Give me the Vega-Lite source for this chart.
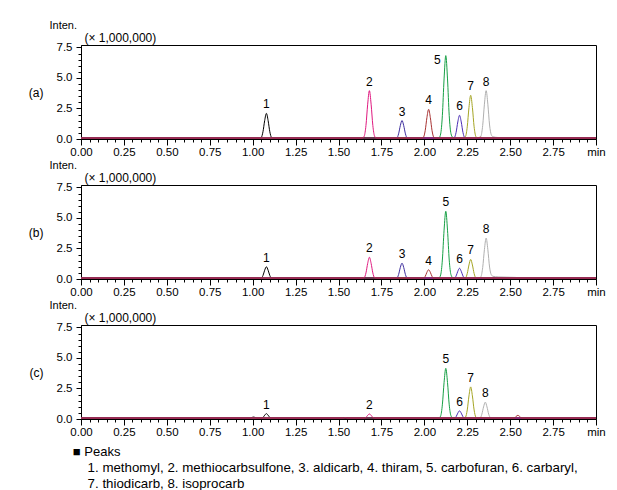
{
"$schema": "https://vega.github.io/schema/vega-lite/v6.json",
"background": "white",
"padding": {"left": 27, "top": 19, "right": 0, "bottom": 0},
"spacing": 1,
"config": {
  "font": "Liberation Sans",
  "view": {"stroke": "#000", "strokeWidth": 1},
  "axis": {"labelFont": "Liberation Sans", "titleFont": "Liberation Sans", "titleFontWeight": "normal", "domainColor": "#000", "tickColor": "#000", "labelColor": "#000", "titleColor": "#000", "grid": false, "labelOverlap": false, "labelFlush": false},
  "title": {"font": "Liberation Sans", "subtitleFont": "Liberation Sans", "color": "#000", "subtitleColor": "#000", "fontWeight": "normal"}
},
"datasets": {
"tr": [
{"p":"a","c":"8","t":0,"v":0.08},{"p":"a","c":"8","t":2.32,"v":0.08},{"p":"a","c":"8","t":2.33,"v":0.24},{"p":"a","c":"8","t":2.34,"v":1.11},{"p":"a","c":"8","t":2.35,"v":2.85},{"p":"a","c":"8","t":2.36,"v":3.96},{"p":"a","c":"8","t":2.37,"v":2.85},{"p":"a","c":"8","t":2.38,"v":1.15},{"p":"a","c":"8","t":2.39,"v":0.35},{"p":"a","c":"8","t":2.40,"v":0.18},{"p":"a","c":"8","t":2.43,"v":0.12},{"p":"a","c":"8","t":2.47,"v":0.08},{"p":"a","c":"8","t":3,"v":0.08},
{"p":"a","c":"7","t":0,"v":0.08},{"p":"a","c":"7","t":2.23,"v":0.08},{"p":"a","c":"7","t":2.24,"v":0.21},{"p":"a","c":"7","t":2.25,"v":1.0},{"p":"a","c":"7","t":2.26,"v":2.58},{"p":"a","c":"7","t":2.27,"v":3.58},{"p":"a","c":"7","t":2.28,"v":2.58},{"p":"a","c":"7","t":2.29,"v":1.0},{"p":"a","c":"7","t":2.30,"v":0.21},{"p":"a","c":"7","t":2.31,"v":0.08},{"p":"a","c":"7","t":3,"v":0.08},
{"p":"a","c":"6","t":0,"v":0.08},{"p":"a","c":"6","t":2.165,"v":0.08},{"p":"a","c":"6","t":2.175,"v":0.12},{"p":"a","c":"6","t":2.185,"v":0.54},{"p":"a","c":"6","t":2.195,"v":1.40},{"p":"a","c":"6","t":2.205,"v":1.94},{"p":"a","c":"6","t":2.215,"v":1.40},{"p":"a","c":"6","t":2.225,"v":0.54},{"p":"a","c":"6","t":2.235,"v":0.12},{"p":"a","c":"6","t":2.245,"v":0.08},{"p":"a","c":"6","t":3,"v":0.08},
{"p":"a","c":"5","t":0,"v":0.08},{"p":"a","c":"5","t":2.085,"v":0.08},{"p":"a","c":"5","t":2.095,"v":0.41},{"p":"a","c":"5","t":2.105,"v":1.91},{"p":"a","c":"5","t":2.115,"v":4.92},{"p":"a","c":"5","t":2.125,"v":6.83},{"p":"a","c":"5","t":2.135,"v":4.92},{"p":"a","c":"5","t":2.145,"v":1.91},{"p":"a","c":"5","t":2.155,"v":0.45},{"p":"a","c":"5","t":2.165,"v":0.14},{"p":"a","c":"5","t":2.18,"v":0.08},{"p":"a","c":"5","t":3,"v":0.08},
{"p":"a","c":"1","t":0,"v":0.08},{"p":"a","c":"1","t":1.04,"v":0.08},{"p":"a","c":"1","t":1.05,"v":0.13},{"p":"a","c":"1","t":1.06,"v":0.59},{"p":"a","c":"1","t":1.07,"v":1.51},{"p":"a","c":"1","t":1.08,"v":2.1},{"p":"a","c":"1","t":1.09,"v":1.51},{"p":"a","c":"1","t":1.10,"v":0.59},{"p":"a","c":"1","t":1.11,"v":0.13},{"p":"a","c":"1","t":1.12,"v":0.08},{"p":"a","c":"1","t":3,"v":0.08},
{"p":"a","c":"3","t":0,"v":0.08},{"p":"a","c":"3","t":1.83,"v":0.08},{"p":"a","c":"3","t":1.84,"v":0.09},{"p":"a","c":"3","t":1.85,"v":0.42},{"p":"a","c":"3","t":1.86,"v":1.09},{"p":"a","c":"3","t":1.87,"v":1.51},{"p":"a","c":"3","t":1.88,"v":1.09},{"p":"a","c":"3","t":1.89,"v":0.42},{"p":"a","c":"3","t":1.90,"v":0.09},{"p":"a","c":"3","t":1.91,"v":0.08},{"p":"a","c":"3","t":3,"v":0.08},
{"p":"a","c":"2","t":0,"v":0.08},{"p":"a","c":"2","t":1.64,"v":0.08},{"p":"a","c":"2","t":1.65,"v":0.24},{"p":"a","c":"2","t":1.66,"v":1.11},{"p":"a","c":"2","t":1.67,"v":2.85},{"p":"a","c":"2","t":1.68,"v":3.96},{"p":"a","c":"2","t":1.69,"v":2.85},{"p":"a","c":"2","t":1.70,"v":1.11},{"p":"a","c":"2","t":1.71,"v":0.24},{"p":"a","c":"2","t":1.72,"v":0.08},{"p":"a","c":"2","t":3,"v":0.08},
{"p":"a","c":"4","t":0,"v":0.08},{"p":"a","c":"4","t":1.985,"v":0.08},{"p":"a","c":"4","t":1.995,"v":0.15},{"p":"a","c":"4","t":2.005,"v":0.68},{"p":"a","c":"4","t":2.015,"v":1.75},{"p":"a","c":"4","t":2.025,"v":2.43},{"p":"a","c":"4","t":2.035,"v":1.75},{"p":"a","c":"4","t":2.045,"v":0.68},{"p":"a","c":"4","t":2.055,"v":0.15},{"p":"a","c":"4","t":2.065,"v":0.08},{"p":"a","c":"4","t":2.31,"v":0.08},{"p":"a","c":"4","t":2.325,"v":0.15},{"p":"a","c":"4","t":2.34,"v":0.08},{"p":"a","c":"4","t":3,"v":0.08},

{"p":"b","c":"8","t":0,"v":0.08},{"p":"b","c":"8","t":2.32,"v":0.08},{"p":"b","c":"8","t":2.33,"v":0.2},{"p":"b","c":"8","t":2.34,"v":0.94},{"p":"b","c":"8","t":2.35,"v":2.41},{"p":"b","c":"8","t":2.36,"v":3.35},{"p":"b","c":"8","t":2.37,"v":2.41},{"p":"b","c":"8","t":2.38,"v":0.98},{"p":"b","c":"8","t":2.39,"v":0.35},{"p":"b","c":"8","t":2.40,"v":0.22},{"p":"b","c":"8","t":2.43,"v":0.17},{"p":"b","c":"8","t":2.48,"v":0.15},{"p":"b","c":"8","t":2.53,"v":0.13},{"p":"b","c":"8","t":2.56,"v":0.08},{"p":"b","c":"8","t":3,"v":0.08},
{"p":"b","c":"7","t":0,"v":0.08},{"p":"b","c":"7","t":2.23,"v":0.08},{"p":"b","c":"7","t":2.24,"v":0.1},{"p":"b","c":"7","t":2.25,"v":0.45},{"p":"b","c":"7","t":2.26,"v":1.15},{"p":"b","c":"7","t":2.27,"v":1.6},{"p":"b","c":"7","t":2.28,"v":1.15},{"p":"b","c":"7","t":2.29,"v":0.45},{"p":"b","c":"7","t":2.30,"v":0.1},{"p":"b","c":"7","t":2.31,"v":0.08},{"p":"b","c":"7","t":3,"v":0.08},
{"p":"b","c":"6","t":0,"v":0.08},{"p":"b","c":"6","t":2.165,"v":0.08},{"p":"b","c":"6","t":2.175,"v":0.08},{"p":"b","c":"6","t":2.185,"v":0.25},{"p":"b","c":"6","t":2.195,"v":0.63},{"p":"b","c":"6","t":2.205,"v":0.88},{"p":"b","c":"6","t":2.215,"v":0.63},{"p":"b","c":"6","t":2.225,"v":0.25},{"p":"b","c":"6","t":2.235,"v":0.08},{"p":"b","c":"6","t":2.245,"v":0.08},{"p":"b","c":"6","t":3,"v":0.08},
{"p":"b","c":"5","t":0,"v":0.08},{"p":"b","c":"5","t":2.085,"v":0.08},{"p":"b","c":"5","t":2.095,"v":0.33},{"p":"b","c":"5","t":2.105,"v":1.55},{"p":"b","c":"5","t":2.115,"v":4.0},{"p":"b","c":"5","t":2.125,"v":5.55},{"p":"b","c":"5","t":2.135,"v":4.0},{"p":"b","c":"5","t":2.145,"v":1.55},{"p":"b","c":"5","t":2.155,"v":0.36},{"p":"b","c":"5","t":2.165,"v":0.12},{"p":"b","c":"5","t":2.18,"v":0.08},{"p":"b","c":"5","t":3,"v":0.08},
{"p":"b","c":"1","t":0,"v":0.08},{"p":"b","c":"1","t":1.04,"v":0.08},{"p":"b","c":"1","t":1.05,"v":0.08},{"p":"b","c":"1","t":1.06,"v":0.28},{"p":"b","c":"1","t":1.07,"v":0.72},{"p":"b","c":"1","t":1.08,"v":1.0},{"p":"b","c":"1","t":1.09,"v":0.72},{"p":"b","c":"1","t":1.10,"v":0.28},{"p":"b","c":"1","t":1.11,"v":0.08},{"p":"b","c":"1","t":1.12,"v":0.08},{"p":"b","c":"1","t":3,"v":0.08},
{"p":"b","c":"3","t":0,"v":0.08},{"p":"b","c":"3","t":1.83,"v":0.08},{"p":"b","c":"3","t":1.84,"v":0.08},{"p":"b","c":"3","t":1.85,"v":0.36},{"p":"b","c":"3","t":1.86,"v":0.94},{"p":"b","c":"3","t":1.87,"v":1.3},{"p":"b","c":"3","t":1.88,"v":0.94},{"p":"b","c":"3","t":1.89,"v":0.36},{"p":"b","c":"3","t":1.90,"v":0.08},{"p":"b","c":"3","t":1.91,"v":0.08},{"p":"b","c":"3","t":3,"v":0.08},
{"p":"b","c":"2","t":0,"v":0.08},{"p":"b","c":"2","t":1.64,"v":0.08},{"p":"b","c":"2","t":1.65,"v":0.11},{"p":"b","c":"2","t":1.66,"v":0.5},{"p":"b","c":"2","t":1.67,"v":1.28},{"p":"b","c":"2","t":1.68,"v":1.78},{"p":"b","c":"2","t":1.69,"v":1.28},{"p":"b","c":"2","t":1.70,"v":0.5},{"p":"b","c":"2","t":1.71,"v":0.11},{"p":"b","c":"2","t":1.72,"v":0.08},{"p":"b","c":"2","t":3,"v":0.08},
{"p":"b","c":"4","t":0,"v":0.08},{"p":"b","c":"4","t":1.985,"v":0.08},{"p":"b","c":"4","t":1.995,"v":0.08},{"p":"b","c":"4","t":2.005,"v":0.21},{"p":"b","c":"4","t":2.015,"v":0.55},{"p":"b","c":"4","t":2.025,"v":0.76},{"p":"b","c":"4","t":2.035,"v":0.55},{"p":"b","c":"4","t":2.045,"v":0.21},{"p":"b","c":"4","t":2.055,"v":0.08},{"p":"b","c":"4","t":2.065,"v":0.08},{"p":"b","c":"4","t":2.31,"v":0.08},{"p":"b","c":"4","t":2.325,"v":0.12},{"p":"b","c":"4","t":2.34,"v":0.08},{"p":"b","c":"4","t":3,"v":0.08},

{"p":"c","c":"8","t":0,"v":0.08},{"p":"c","c":"8","t":2.315,"v":0.08},{"p":"c","c":"8","t":2.325,"v":0.08},{"p":"c","c":"8","t":2.335,"v":0.39},{"p":"c","c":"8","t":2.345,"v":0.99},{"p":"c","c":"8","t":2.355,"v":1.38},{"p":"c","c":"8","t":2.365,"v":0.99},{"p":"c","c":"8","t":2.375,"v":0.39},{"p":"c","c":"8","t":2.385,"v":0.12},{"p":"c","c":"8","t":2.395,"v":0.09},{"p":"c","c":"8","t":2.42,"v":0.08},{"p":"c","c":"8","t":3,"v":0.08},
{"p":"c","c":"7","t":0,"v":0.08},{"p":"c","c":"7","t":2.23,"v":0.08},{"p":"c","c":"7","t":2.24,"v":0.16},{"p":"c","c":"7","t":2.25,"v":0.74},{"p":"c","c":"7","t":2.26,"v":1.89},{"p":"c","c":"7","t":2.27,"v":2.63},{"p":"c","c":"7","t":2.28,"v":1.89},{"p":"c","c":"7","t":2.29,"v":0.74},{"p":"c","c":"7","t":2.30,"v":0.16},{"p":"c","c":"7","t":2.31,"v":0.08},{"p":"c","c":"7","t":3,"v":0.08},
{"p":"c","c":"6","t":0,"v":0.08},{"p":"c","c":"6","t":2.165,"v":0.08},{"p":"c","c":"6","t":2.175,"v":0.08},{"p":"c","c":"6","t":2.185,"v":0.19},{"p":"c","c":"6","t":2.195,"v":0.48},{"p":"c","c":"6","t":2.205,"v":0.67},{"p":"c","c":"6","t":2.215,"v":0.48},{"p":"c","c":"6","t":2.225,"v":0.19},{"p":"c","c":"6","t":2.235,"v":0.08},{"p":"c","c":"6","t":2.245,"v":0.08},{"p":"c","c":"6","t":3,"v":0.08},
{"p":"c","c":"5","t":0,"v":0.08},{"p":"c","c":"5","t":2.085,"v":0.08},{"p":"c","c":"5","t":2.095,"v":0.25},{"p":"c","c":"5","t":2.105,"v":1.16},{"p":"c","c":"5","t":2.115,"v":2.99},{"p":"c","c":"5","t":2.125,"v":4.15},{"p":"c","c":"5","t":2.135,"v":2.99},{"p":"c","c":"5","t":2.145,"v":1.16},{"p":"c","c":"5","t":2.155,"v":0.27},{"p":"c","c":"5","t":2.165,"v":0.1},{"p":"c","c":"5","t":2.18,"v":0.08},{"p":"c","c":"5","t":3,"v":0.08},
{"p":"c","c":"1","t":0,"v":0.08},{"p":"c","c":"1","t":0.985,"v":0.08},{"p":"c","c":"1","t":0.995,"v":0.12},{"p":"c","c":"1","t":1.005,"v":0.16},{"p":"c","c":"1","t":1.015,"v":0.12},{"p":"c","c":"1","t":1.025,"v":0.08},{"p":"c","c":"1","t":1.05,"v":0.08},{"p":"c","c":"1","t":1.06,"v":0.13},{"p":"c","c":"1","t":1.07,"v":0.31},{"p":"c","c":"1","t":1.08,"v":0.44},{"p":"c","c":"1","t":1.09,"v":0.31},{"p":"c","c":"1","t":1.10,"v":0.13},{"p":"c","c":"1","t":1.11,"v":0.08},{"p":"c","c":"1","t":3,"v":0.08},
{"p":"c","c":"3","t":0,"v":0.08},{"p":"c","c":"3","t":1.86,"v":0.08},{"p":"c","c":"3","t":1.87,"v":0.12},{"p":"c","c":"3","t":1.88,"v":0.08},{"p":"c","c":"3","t":3,"v":0.08},
{"p":"c","c":"2","t":0,"v":0.08},{"p":"c","c":"2","t":1.53,"v":0.08},{"p":"c","c":"2","t":1.54,"v":0.12},{"p":"c","c":"2","t":1.55,"v":0.08},{"p":"c","c":"2","t":1.65,"v":0.08},{"p":"c","c":"2","t":1.66,"v":0.13},{"p":"c","c":"2","t":1.67,"v":0.3},{"p":"c","c":"2","t":1.68,"v":0.41},{"p":"c","c":"2","t":1.69,"v":0.3},{"p":"c","c":"2","t":1.70,"v":0.13},{"p":"c","c":"2","t":1.71,"v":0.08},{"p":"c","c":"2","t":3,"v":0.08},
{"p":"c","c":"4","t":0,"v":0.08},{"p":"c","c":"4","t":2.32,"v":0.08},{"p":"c","c":"4","t":2.33,"v":0.14},{"p":"c","c":"4","t":2.34,"v":0.08},{"p":"c","c":"4","t":2.525,"v":0.08},{"p":"c","c":"4","t":2.535,"v":0.22},{"p":"c","c":"4","t":2.545,"v":0.3},{"p":"c","c":"4","t":2.555,"v":0.22},{"p":"c","c":"4","t":2.565,"v":0.08},{"p":"c","c":"4","t":3,"v":0.08}
],
"lb": [
{"p":"a","n":"1","t":1.08,"v":2.1},{"p":"a","n":"2","t":1.68,"v":3.96},{"p":"a","n":"3","t":1.87,"v":1.51},{"p":"a","n":"4","t":2.025,"v":2.43},{"p":"a","n":"5","t":2.125,"v":6.83},{"p":"a","n":"6","t":2.205,"v":1.94},{"p":"a","n":"7","t":2.27,"v":3.58},{"p":"a","n":"8","t":2.36,"v":3.96},
{"p":"b","n":"1","t":1.08,"v":1.0},{"p":"b","n":"2","t":1.68,"v":1.78},{"p":"b","n":"3","t":1.87,"v":1.3},{"p":"b","n":"4","t":2.025,"v":0.76},{"p":"b","n":"5","t":2.125,"v":5.55},{"p":"b","n":"6","t":2.205,"v":0.88},{"p":"b","n":"7","t":2.27,"v":1.6},{"p":"b","n":"8","t":2.36,"v":3.35},
{"p":"c","n":"1","t":1.08,"v":0.44},{"p":"c","n":"2","t":1.68,"v":0.41},{"p":"c","n":"5","t":2.125,"v":4.15},{"p":"c","n":"6","t":2.205,"v":0.67},{"p":"c","n":"7","t":2.27,"v":2.63},{"p":"c","n":"8","t":2.355,"v":1.38}
]
},
"title": {
  "text": "■\u00a0Peaks",
  "subtitle": ["\u200b\u00a0\u00a0\u00a0\u00a01. methomyl, 2. methiocarbsulfone, 3. aldicarb, 4. thiram, 5. carbofuran, 6. carbaryl,", "\u200b\u00a0\u00a0\u00a0\u00a07. thiodicarb, 8. isoprocarb"],
  "orient": "bottom", "anchor": "start", "frame": "bounds",
  "fontSize": 13, "subtitleFontSize": 13.3, "subtitleLineHeight": 15.5, "subtitlePadding": 2,
  "dx": 45, "offset": 8
},
"vconcat": [
{
  "width": 515, "height": 94,
  "title": {"text": "Inten.", "anchor": "start", "align": "right", "frame": "group", "dx": -4, "fontSize": 11, "offset": 0},
  "layer": [
    {"data": {"name": "tr"}, "transform": [{"filter": "datum.p == 'a'"}],
     "mark": {"type": "line", "strokeWidth": 1, "interpolate": "monotone"},
     "encoding": {
       "x": {"field": "t", "type": "quantitative", "scale": {"domain": [0, 3], "nice": false, "zero": false},
             "axis": {"orient": "bottom", "title": null, "values": [0,0.05,0.1,0.15,0.2,0.25,0.3,0.35,0.4,0.45,0.5,0.55,0.6,0.65,0.7,0.75,0.8,0.85,0.9,0.95,1,1.05,1.1,1.15,1.2,1.25,1.3,1.35,1.4,1.45,1.5,1.55,1.6,1.65,1.7,1.75,1.8,1.85,1.9,1.95,2,2.05,2.1,2.15,2.2,2.25,2.3,2.35,2.4,2.45,2.5,2.55,2.6,2.65,2.7,2.75,2.8,2.85,2.9,2.95,3],
                      "labelExpr": "abs(datum.value*4 - round(datum.value*4)) < 0.001 ? (datum.value > 2.99 ? 'min' : format(datum.value, '.2f')) : ''",
                      "tickSize": {"condition": {"test": "abs(datum.value*4 - round(datum.value*4)) < 0.001", "value": 6}, "value": 3},
                      "labelPadding": 1, "labelFontSize": 11.5, "labelOverlap": false, "labelFlush": false}},
       "y": {"field": "v", "type": "quantitative", "scale": {"domain": [0, 7.7], "nice": false},
             "axis": {"orient": "left", "values": [0,0.5,1,1.5,2,2.5,3,3.5,4,4.5,5,5.5,6,6.5,7,7.5],
                      "labelExpr": "abs(datum.value/2.5 - round(datum.value/2.5)) < 0.001 ? format(datum.value, '.1f') : ''",
                      "tickSize": {"condition": {"test": "abs(datum.value/2.5 - round(datum.value/2.5)) < 0.001", "value": 5}, "value": 3},
                      "labelPadding": 4, "labelFontSize": 11.5, "labelOverlap": false, "labelFlush": false,
                      "title": "(a)", "titleAngle": 0, "titleAlign": "right", "titleBaseline": "middle", "titleX": -38, "titleY": 47, "titleFontSize": 12}},
       "color": {"field": "c", "type": "nominal", "legend": null,
                 "scale": {"domain": ["1","2","3","4","5","6","7","8"], "range": ["#000000","#e0197f","#3d2d9e","#a83232","#17a045","#4a2db5","#a5a524","#b0b0b0"]}}
     }},
    {"data": {"name": "lb"}, "transform": [{"filter": "datum.p == 'a' && datum.n != '5'"}],
     "mark": {"type": "text", "dy": -5, "baseline": "alphabetic", "fontSize": 12, "color": "#000"},
     "encoding": {
       "x": {"field": "t", "type": "quantitative", "scale": {"domain": [0, 3], "nice": false, "zero": false},
             "axis": {"orient": "top", "title": "(× 1,000,000)", "labels": false, "ticks": false, "domain": false, "titleX": 3, "titleY": -4, "titleAlign": "left", "titleBaseline": "alphabetic", "titleFontSize": 12}},
       "y": {"field": "v", "type": "quantitative", "scale": {"domain": [0, 7.7], "nice": false}, "axis": null},
       "text": {"field": "n"}
     }},
    {"data": {"name": "lb"}, "transform": [{"filter": "datum.p == 'a' && datum.n == '5'"}],
     "mark": {"type": "text", "dx": -5, "dy": 8, "align": "right", "baseline": "alphabetic", "fontSize": 12, "color": "#000"},
     "encoding": {
       "x": {"field": "t", "type": "quantitative", "scale": {"domain": [0, 3], "nice": false, "zero": false}, "axis": null},
       "y": {"field": "v", "type": "quantitative", "scale": {"domain": [0, 7.7], "nice": false}, "axis": null},
       "text": {"field": "n"}
     }}
  ],
  "resolve": {"axis": {"x": "independent", "y": "independent"}}
},
{
  "width": 515, "height": 94,
  "title": {"text": "Inten.", "anchor": "start", "align": "right", "frame": "group", "dx": -4, "fontSize": 11, "offset": 0},
  "layer": [
    {"data": {"name": "tr"}, "transform": [{"filter": "datum.p == 'b'"}],
     "mark": {"type": "line", "strokeWidth": 1, "interpolate": "monotone"},
     "encoding": {
       "x": {"field": "t", "type": "quantitative", "scale": {"domain": [0, 3], "nice": false, "zero": false},
             "axis": {"orient": "bottom", "title": null, "values": [0,0.05,0.1,0.15,0.2,0.25,0.3,0.35,0.4,0.45,0.5,0.55,0.6,0.65,0.7,0.75,0.8,0.85,0.9,0.95,1,1.05,1.1,1.15,1.2,1.25,1.3,1.35,1.4,1.45,1.5,1.55,1.6,1.65,1.7,1.75,1.8,1.85,1.9,1.95,2,2.05,2.1,2.15,2.2,2.25,2.3,2.35,2.4,2.45,2.5,2.55,2.6,2.65,2.7,2.75,2.8,2.85,2.9,2.95,3],
                      "labelExpr": "abs(datum.value*4 - round(datum.value*4)) < 0.001 ? (datum.value > 2.99 ? 'min' : format(datum.value, '.2f')) : ''",
                      "tickSize": {"condition": {"test": "abs(datum.value*4 - round(datum.value*4)) < 0.001", "value": 6}, "value": 3},
                      "labelPadding": 1, "labelFontSize": 11.5, "labelOverlap": false, "labelFlush": false}},
       "y": {"field": "v", "type": "quantitative", "scale": {"domain": [0, 7.7], "nice": false},
             "axis": {"orient": "left", "values": [0,0.5,1,1.5,2,2.5,3,3.5,4,4.5,5,5.5,6,6.5,7,7.5],
                      "labelExpr": "abs(datum.value/2.5 - round(datum.value/2.5)) < 0.001 ? format(datum.value, '.1f') : ''",
                      "tickSize": {"condition": {"test": "abs(datum.value/2.5 - round(datum.value/2.5)) < 0.001", "value": 5}, "value": 3},
                      "labelPadding": 4, "labelFontSize": 11.5, "labelOverlap": false, "labelFlush": false,
                      "title": "(b)", "titleAngle": 0, "titleAlign": "right", "titleBaseline": "middle", "titleX": -38, "titleY": 47, "titleFontSize": 12}},
       "color": {"field": "c", "type": "nominal", "legend": null,
                 "scale": {"domain": ["1","2","3","4","5","6","7","8"], "range": ["#000000","#e0197f","#3d2d9e","#a83232","#17a045","#4a2db5","#a5a524","#b0b0b0"]}}
     }},
    {"data": {"name": "lb"}, "transform": [{"filter": "datum.p == 'b'"}],
     "mark": {"type": "text", "dy": -5, "baseline": "alphabetic", "fontSize": 12, "color": "#000"},
     "encoding": {
       "x": {"field": "t", "type": "quantitative", "scale": {"domain": [0, 3], "nice": false, "zero": false},
             "axis": {"orient": "top", "title": "(× 1,000,000)", "labels": false, "ticks": false, "domain": false, "titleX": 3, "titleY": -4, "titleAlign": "left", "titleBaseline": "alphabetic", "titleFontSize": 12}},
       "y": {"field": "v", "type": "quantitative", "scale": {"domain": [0, 7.7], "nice": false}, "axis": null},
       "text": {"field": "n"}
     }}
  ],
  "resolve": {"axis": {"x": "independent", "y": "independent"}}
},
{
  "width": 515, "height": 94,
  "title": {"text": "Inten.", "anchor": "start", "align": "right", "frame": "group", "dx": -4, "fontSize": 11, "offset": 0},
  "layer": [
    {"data": {"name": "tr"}, "transform": [{"filter": "datum.p == 'c'"}],
     "mark": {"type": "line", "strokeWidth": 1, "interpolate": "monotone"},
     "encoding": {
       "x": {"field": "t", "type": "quantitative", "scale": {"domain": [0, 3], "nice": false, "zero": false},
             "axis": {"orient": "bottom", "title": null, "values": [0,0.05,0.1,0.15,0.2,0.25,0.3,0.35,0.4,0.45,0.5,0.55,0.6,0.65,0.7,0.75,0.8,0.85,0.9,0.95,1,1.05,1.1,1.15,1.2,1.25,1.3,1.35,1.4,1.45,1.5,1.55,1.6,1.65,1.7,1.75,1.8,1.85,1.9,1.95,2,2.05,2.1,2.15,2.2,2.25,2.3,2.35,2.4,2.45,2.5,2.55,2.6,2.65,2.7,2.75,2.8,2.85,2.9,2.95,3],
                      "labelExpr": "abs(datum.value*4 - round(datum.value*4)) < 0.001 ? (datum.value > 2.99 ? 'min' : format(datum.value, '.2f')) : ''",
                      "tickSize": {"condition": {"test": "abs(datum.value*4 - round(datum.value*4)) < 0.001", "value": 6}, "value": 3},
                      "labelPadding": 1, "labelFontSize": 11.5, "labelOverlap": false, "labelFlush": false}},
       "y": {"field": "v", "type": "quantitative", "scale": {"domain": [0, 7.7], "nice": false},
             "axis": {"orient": "left", "values": [0,0.5,1,1.5,2,2.5,3,3.5,4,4.5,5,5.5,6,6.5,7,7.5],
                      "labelExpr": "abs(datum.value/2.5 - round(datum.value/2.5)) < 0.001 ? format(datum.value, '.1f') : ''",
                      "tickSize": {"condition": {"test": "abs(datum.value/2.5 - round(datum.value/2.5)) < 0.001", "value": 5}, "value": 3},
                      "labelPadding": 4, "labelFontSize": 11.5, "labelOverlap": false, "labelFlush": false,
                      "title": "(c)", "titleAngle": 0, "titleAlign": "right", "titleBaseline": "middle", "titleX": -38, "titleY": 47, "titleFontSize": 12}},
       "color": {"field": "c", "type": "nominal", "legend": null,
                 "scale": {"domain": ["1","2","3","4","5","6","7","8"], "range": ["#000000","#e0197f","#3d2d9e","#a83232","#17a045","#4a2db5","#a5a524","#b0b0b0"]}}
     }},
    {"data": {"name": "lb"}, "transform": [{"filter": "datum.p == 'c'"}],
     "mark": {"type": "text", "dy": -5, "baseline": "alphabetic", "fontSize": 12, "color": "#000"},
     "encoding": {
       "x": {"field": "t", "type": "quantitative", "scale": {"domain": [0, 3], "nice": false, "zero": false},
             "axis": {"orient": "top", "title": "(× 1,000,000)", "labels": false, "ticks": false, "domain": false, "titleX": 3, "titleY": -4, "titleAlign": "left", "titleBaseline": "alphabetic", "titleFontSize": 12}},
       "y": {"field": "v", "type": "quantitative", "scale": {"domain": [0, 7.7], "nice": false}, "axis": null},
       "text": {"field": "n"}
     }}
  ],
  "resolve": {"axis": {"x": "independent", "y": "independent"}}
}
]
}
